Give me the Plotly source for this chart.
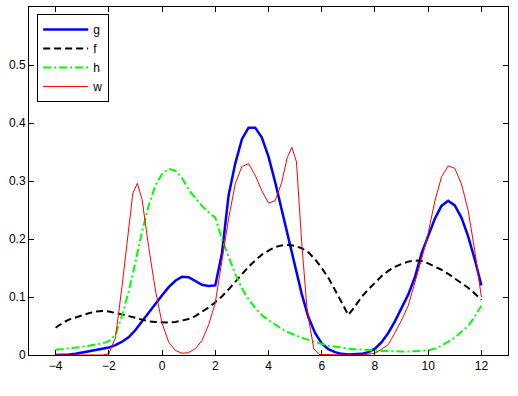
import plotly.graph_objects as go

# common x grid for g, f, h
x_grid = [-4 + 0.25 * i for i in range(65)]

g_vals = [0, 0, 0.001, 0.002, 0.004, 0.006, 0.008, 0.010, 0.013, 0.017, 0.023, 0.031,
          0.043, 0.058, 0.074, 0.088, 0.103, 0.117, 0.128, 0.135, 0.134, 0.127, 0.121,
          0.119, 0.120, 0.175, 0.275, 0.330, 0.372, 0.392, 0.392, 0.375, 0.342, 0.298,
          0.250, 0.200, 0.150, 0.105, 0.065, 0.038, 0.020, 0.010, 0.005, 0.002, 0.001,
          0.001, 0.002, 0.005, 0.011, 0.022, 0.038, 0.058, 0.080, 0.104, 0.134, 0.175,
          0.205, 0.235, 0.257, 0.266, 0.258, 0.237, 0.205, 0.165, 0.120]

f_vals = [0.047, 0.055, 0.061, 0.065, 0.069, 0.072, 0.075, 0.076, 0.075, 0.073, 0.070,
          0.067, 0.064, 0.061, 0.058, 0.057, 0.056, 0.056, 0.057, 0.059, 0.062, 0.067,
          0.074, 0.082, 0.091, 0.101, 0.113, 0.126, 0.139, 0.152, 0.163, 0.173, 0.180,
          0.186, 0.189, 0.190, 0.188, 0.184, 0.177, 0.165, 0.150, 0.133, 0.112, 0.090,
          0.069, 0.084, 0.100, 0.113, 0.125, 0.136, 0.145, 0.152, 0.157, 0.161, 0.163,
          0.162, 0.158, 0.153, 0.147, 0.140, 0.132, 0.124, 0.116, 0.106, 0.095]

h_vals = [0.009, 0.010, 0.011, 0.013, 0.014, 0.016, 0.018, 0.020, 0.024, 0.035, 0.068,
          0.110, 0.160, 0.213, 0.258, 0.292, 0.312, 0.321, 0.318, 0.305, 0.285, 0.270,
          0.257, 0.246, 0.237, 0.200, 0.170, 0.140, 0.115, 0.096, 0.081, 0.069, 0.060,
          0.052, 0.045, 0.039, 0.034, 0.030, 0.026, 0.022, 0.019, 0.016, 0.014, 0.013,
          0.011, 0.010, 0.009, 0.008, 0.008, 0.007, 0.007, 0.006, 0.006, 0.006, 0.006,
          0.007, 0.008, 0.011, 0.016, 0.023, 0.030, 0.040, 0.050, 0.066, 0.085]

w_x = [-4, -3, -2.25, -2, -1.75, -1.5, -1.25, -1.1, -0.93, -0.75, -0.5, -0.25, 0, 0.25,
       0.5, 0.75, 1, 1.25, 1.5, 1.75, 2, 2.25, 2.5, 2.75, 3, 3.25, 3.5, 3.75, 4, 4.25,
       4.5, 4.7, 4.88, 5.05, 5.25, 5.45, 5.7, 5.9, 6.5, 7, 7.5, 8, 8.25, 8.5, 8.75, 9,
       9.25, 9.5, 9.75, 10, 10.25, 10.5, 10.75, 11, 11.25, 11.5, 11.75, 12]
w_vals = [0, 0, 0, 0.002, 0.03, 0.12, 0.225, 0.278, 0.296, 0.268, 0.185, 0.112, 0.055,
          0.022, 0.008, 0.003, 0.004, 0.011, 0.025, 0.052, 0.09, 0.16, 0.235, 0.295,
          0.325, 0.33, 0.31, 0.283, 0.262, 0.266, 0.298, 0.34, 0.358, 0.333, 0.193,
          0.078, 0.011, 0.001, 0, 0, 0, 0.003, 0.01, 0.018, 0.038, 0.06, 0.085, 0.125,
          0.165, 0.21, 0.265, 0.307, 0.326, 0.322, 0.295, 0.25, 0.18, 0.1]

x_ticks = [-4, -2, 0, 2, 4, 6, 8, 10, 12]
y_ticks = [0, 0.1, 0.2, 0.3, 0.4, 0.5]
y_labels = ["0", "0.1", "0.2", "0.3", "0.4", "0.5"]

fig = go.Figure()
fig.add_trace(go.Scatter(x=x_grid, y=g_vals, name="g", mode="lines",
                         line=dict(color="#0000ff", width=2.5)))
fig.add_trace(go.Scatter(x=x_grid, y=f_vals, name="f", mode="lines",
                         line=dict(color="black", width=2, dash="7px,4px")))
fig.add_trace(go.Scatter(x=x_grid, y=h_vals, name="h", mode="lines",
                         line=dict(color="#00ff00", width=2, dash="8px,3px,2px,3px")))
fig.add_trace(go.Scatter(x=w_x, y=w_vals, name="w", mode="lines",
                         line=dict(color="#ff0000", width=1)))

font = dict(family="Liberation Sans, Arial, sans-serif", size=12, color="black")
fig.update_layout(
    width=518, height=396,
    margin=dict(l=29, r=10, t=7, b=41),
    paper_bgcolor="white", plot_bgcolor="white",
    font=font,
    showlegend=True,
    legend=dict(x=0.017, y=0.98, xanchor="left", yanchor="top",
                bgcolor="white", bordercolor="black", borderwidth=1,
                font=dict(family="Liberation Sans, Arial, sans-serif", size=12),
                tracegroupgap=0, itemwidth=45),
    xaxis=dict(range=[-5, 13], tickvals=x_ticks, ticks="inside", ticklen=5,
               tickcolor="black", showline=True, linecolor="black", linewidth=1,
               mirror="ticks", showgrid=False, zeroline=False),
    yaxis=dict(range=[0, 0.6], tickvals=y_ticks, ticktext=y_labels, ticks="inside",
               ticklen=5, tickcolor="black", showline=True, linecolor="black",
               linewidth=1, mirror="ticks", showgrid=False, zeroline=False),
)
fig.write_html("out.html")
